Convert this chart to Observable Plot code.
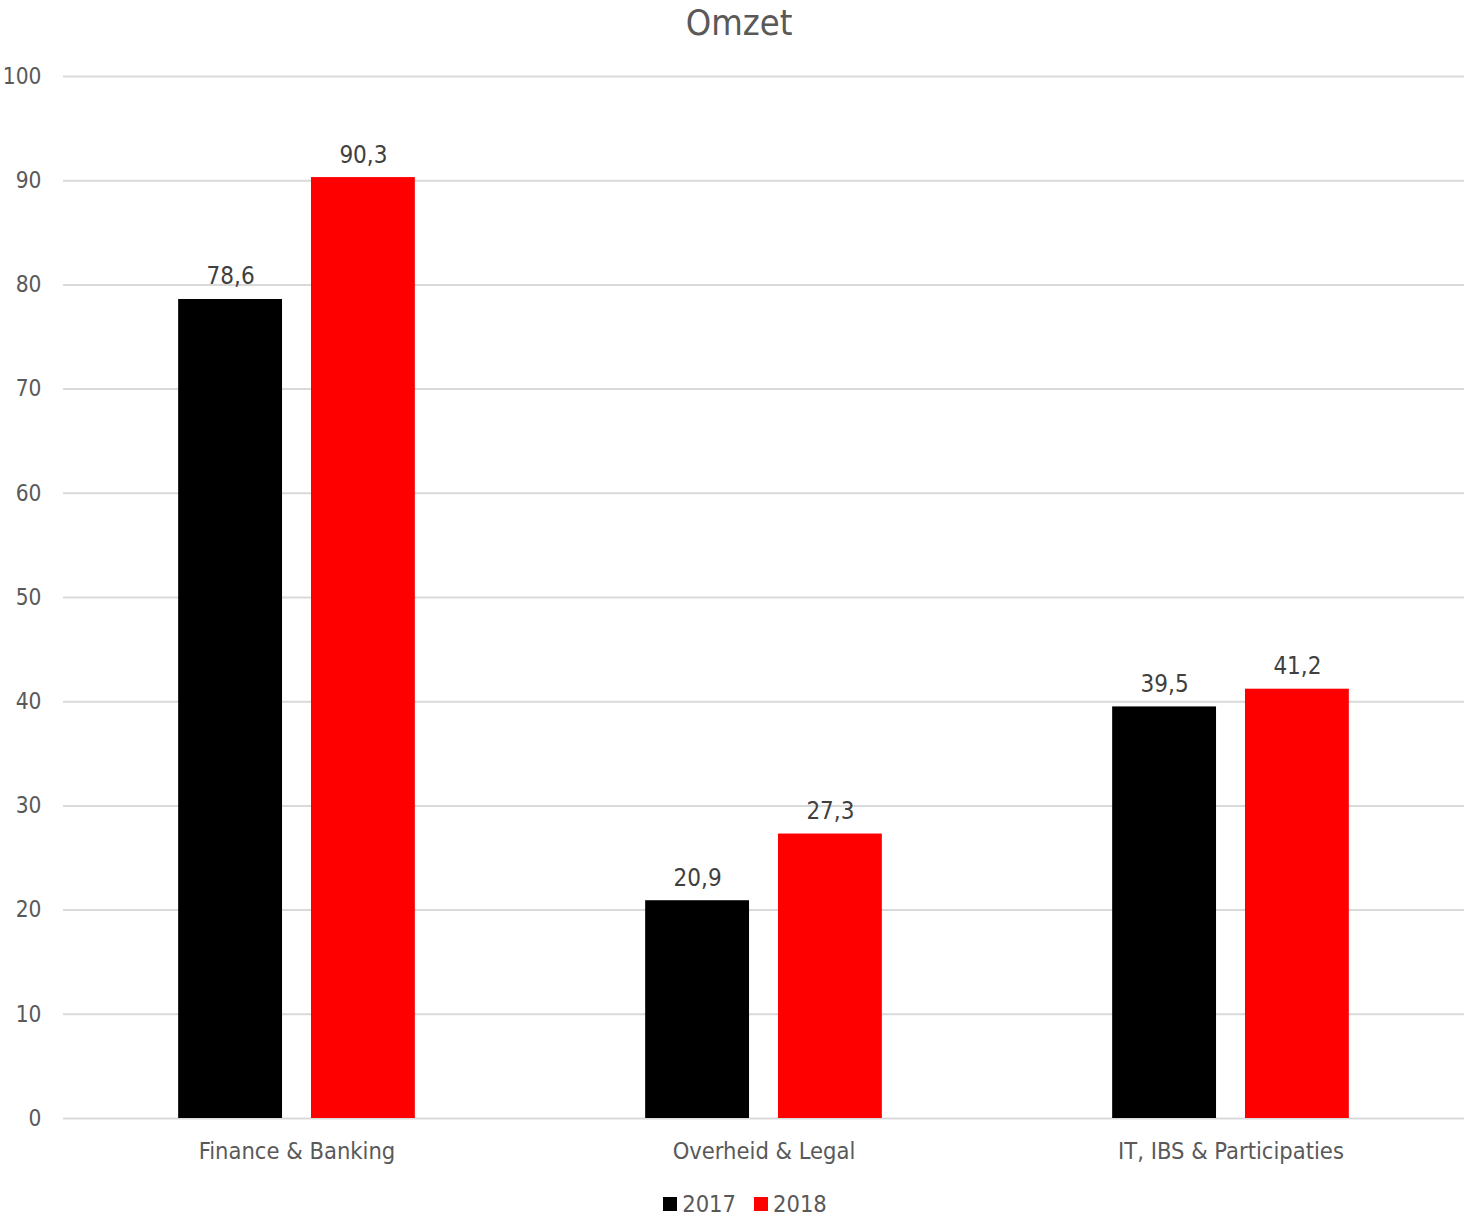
<!DOCTYPE html>
<html>
<head>
<meta charset="utf-8">
<script src="https://cdn.jsdelivr.net/npm/d3@7"></script>
<script src="https://cdn.jsdelivr.net/npm/@observablehq/plot@0.6"></script>
<style>
  html, body { margin: 0; padding: 0; background: #ffffff; }
  body { width: 1470px; font-family: "DejaVu Sans Condensed", "DejaVu Sans", sans-serif; font-stretch: condensed; }
  #title { height: 48px; line-height: 46px; text-align: center; font-size: 36px; color: #595959; padding-left: 8px; }
  #chart svg { display: block; }
  #legend { height: 44px; line-height: 44px; display: flex; justify-content: center; align-items: center; gap: 18px; font-size: 23.5px; color: #595959; padding-left: 20px; padding-top: 3px; box-sizing: border-box; }
  #legend .item { display: flex; align-items: center; gap: 5px; }
  #legend .sw { width: 14px; height: 14px; display: inline-block; }
</style>
</head>
<body>
<div id="title">Omzet</div>
<div id="chart"></div>
<div id="legend"></div>
<script>
// Revenue per business unit, 2017 vs 2018
const categories = ["Finance & Banking", "Overheid & Legal", "IT, IBS & Participaties"];
const years = ["2017", "2018"];
const values2017 = [78.6, 20.9, 39.5];
const values2018 = [90.3, 27.3, 41.2];
const yTicks = [0, 10, 20, 30, 40, 50, 60, 70, 80, 90, 100];
const yearColors = ["#000000", "#ff0000"];

const rows = [];
categories.forEach((c, i) => {
  rows.push({category: c, year: years[0], value: values2017[i]});
  rows.push({category: c, year: years[1], value: values2018[i]});
});

const fmt = v => v.toFixed(1).replace(".", ",");
const FONT = `"DejaVu Sans Condensed", "DejaVu Sans", sans-serif`;

const chart = Plot.plot({
  width: 1470,
  height: 1132,
  marginLeft: 62,
  marginRight: 5,
  marginTop: 28,
  marginBottom: 62,
  style: {fontFamily: FONT, background: "#ffffff"},
  fx: {domain: categories, padding: 0, label: null},
  x: {domain: years, axis: null, paddingInner: 0.218, paddingOuter: 0.867, round: false},
  y: {domain: [0, 100], axis: null},
  color: {domain: years, range: yearColors},
  marks: [
    Plot.ruleY(yTicks, {stroke: "#d9d9d9", strokeWidth: 2}),
    Plot.barY(rows, {fx: "category", x: "year", y: "value", fill: "year", inset: 0}),
    Plot.text(rows, {
      fx: "category", x: "year", y: "value",
      text: d => fmt(d.value),
      lineAnchor: "bottom", dy: -15,
      fontSize: 24, fill: "#404040"
    }),
    Plot.axisY({ticks: yTicks, tickSize: 0, tickPadding: 22, fontSize: 22.5, color: "#595959", label: null}),
    Plot.axisFx({anchor: "bottom", tickSize: 0, tickPadding: 24, fontSize: 23.5, color: "#595959", label: null})
  ]
});
document.getElementById("chart").append(chart);

// Legend below the plot
const legend = document.getElementById("legend");
years.forEach((y, i) => {
  const item = document.createElement("span");
  item.className = "item";
  const sw = document.createElement("span");
  sw.className = "sw";
  sw.style.background = yearColors[i];
  const lab = document.createElement("span");
  lab.textContent = y;
  item.append(sw, lab);
  legend.append(item);
});
</script>
</body>
</html>
